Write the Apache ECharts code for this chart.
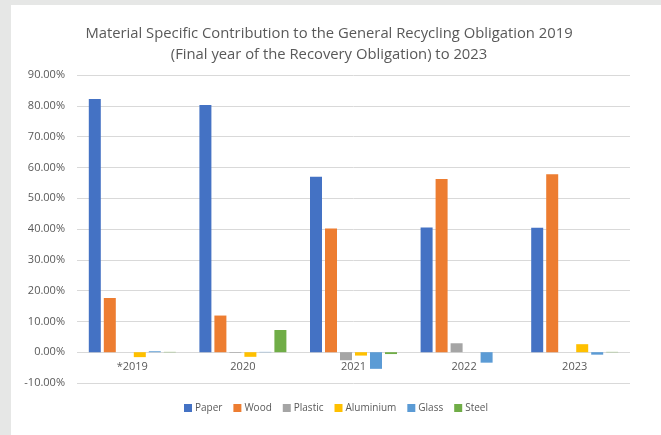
<!DOCTYPE html>
<html>
<head>
<meta charset="utf-8">
<script src="https://cdn.jsdelivr.net/npm/echarts@6/dist/echarts.min.js"></script>
<style>
  html, body { margin: 0; padding: 0; background: #e6e7e6; }
  #chart { position: absolute; left: 11px; top: 5px; width: 650px; height: 430px; background: #fff; }
</style>
</head>
<body>
<div id="chart"></div>
<script>
// years on the x axis
var years = ['*2019', '2020', '2021', '2022', '2023'];
// contribution per material, in %
var paper = [82.2, 80.3, 57.0, 40.5, 40.4];
var wood = [17.6, 11.9, 40.2, 56.2, 57.8];
var plastic = [0.0, -0.2, -2.6, 2.9, 0.0];
var aluminium = [-1.6, -1.5, -1.1, 0.0, 2.6];
var glass = [0.3, 0.1, -5.4, -3.4, -0.8];
var steel = [0.1, 7.2, -0.6, 0.0, 0.1];

var names = ['Paper', 'Wood', 'Plastic', 'Aluminium', 'Glass', 'Steel'];
var values = [paper, wood, plastic, aluminium, glass, steel];
var colors = ['#4472c4', '#ed7d31', '#a5a5a5', '#ffc000', '#5b9bd5', '#70ad47'];

var gridTop = 70, gridBottom = 52, chartH = 430;
// pixel distance from the bottom of the grid up to the 0% line
var zeroOffset = (chartH - gridTop - gridBottom) * 10 / 100;

var chart = echarts.init(document.getElementById('chart'));

var series = names.map(function (n, i) {
  return {
    name: n,
    type: 'bar',
    data: values[i],
    barWidth: 12,
    barGap: '25%',
    itemStyle: { color: colors[i] }
  };
});

chart.setOption({
  animation: false,
  color: colors,
  title: {
    text: 'Material Specific Contribution to the General Recycling Obligation 2019\n(Final year of the Recovery Obligation) to 2023',
    left: 313,
    textAlign: 'center',
    top: 13,
    textStyle: { fontFamily: 'Open Sans', fontSize: 14.8, fontWeight: 'normal', color: '#595959', lineHeight: 21 }
  },
  legend: {
    top: 393,
    left: 'center',
    icon: 'rect',
    itemWidth: 8,
    itemHeight: 8,
    itemGap: 11,
    textStyle: { fontFamily: 'Open Sans', fontSize: 10, color: '#595959', padding: [0, 0, 0, -2] },
    data: names
  },
  grid: { left: 66, right: 31, top: gridTop, bottom: gridBottom },
  xAxis: {
    type: 'category',
    data: years,
    offset: -zeroOffset,
    axisLine: { show: false },
    axisTick: { show: false },
    axisLabel: { fontFamily: 'Open Sans', fontSize: 11, color: '#595959', margin: 9 }
  },
  yAxis: {
    type: 'value',
    min: -10,
    max: 90,
    interval: 10,
    axisLine: { show: false },
    axisTick: { show: false },
    splitLine: { lineStyle: { color: '#d9d9d9' } },
    axisLabel: {
      fontFamily: 'Open Sans', fontSize: 11, color: '#595959', margin: 12,
      formatter: function (v) { return v.toFixed(2) + '%'; }
    }
  },
  series: series
});
</script>
</body>
</html>
